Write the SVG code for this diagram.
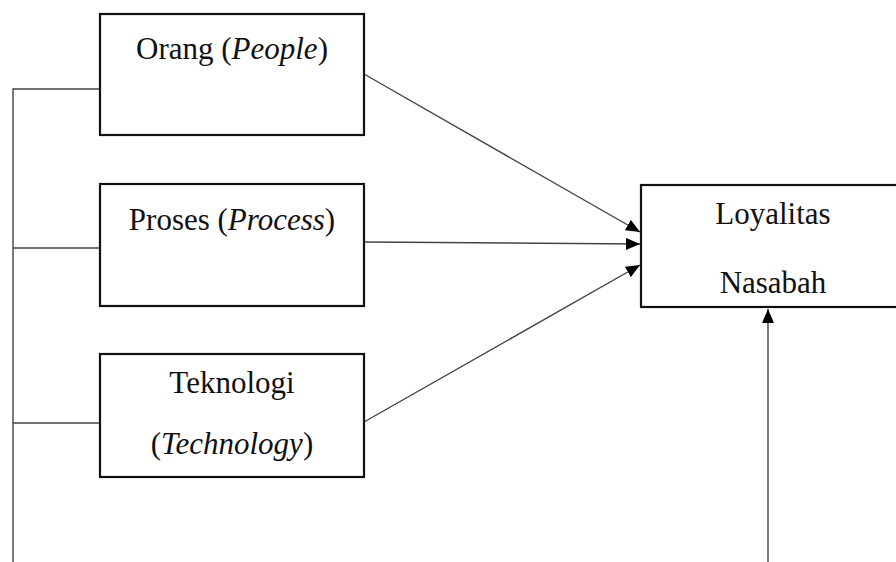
<svg xmlns="http://www.w3.org/2000/svg" width="896" height="562" viewBox="0 0 896 562">
<style>
.box{fill:#fff;stroke:#111;stroke-width:2.2}
.t{font-family:"Liberation Serif","Times New Roman",serif;font-size:31px;fill:#111;text-anchor:middle}
.i{font-style:italic}
.c{fill:none;stroke:#444;stroke-width:1.4}
</style>
<defs>
<marker id="ah" markerWidth="14" markerHeight="12" refX="14" refY="6" orient="auto" markerUnits="userSpaceOnUse">
<path d="M0,0 L14,6 L0,12 Z" fill="#000"/>
</marker>
</defs>
<rect width="896" height="562" fill="#fff"/>
<g id="connectors">
<polyline class="c" points="100,89 13,89 13,562"/>
<line class="c" x1="13" y1="248" x2="100" y2="248"/>
<line class="c" x1="13" y1="423" x2="100" y2="423"/>
<line class="c" x1="364" y1="74" x2="640" y2="232" marker-end="url(#ah)"/>
<line class="c" x1="364" y1="242" x2="640" y2="244" marker-end="url(#ah)"/>
<line class="c" x1="364" y1="422" x2="640" y2="265" marker-end="url(#ah)"/>
<line class="c" x1="768" y1="562" x2="768" y2="309" marker-end="url(#ah)"/>
</g>
<g id="people">
<rect class="box" x="100" y="14" width="264" height="121"/>
<text class="t" x="232" y="59">Orang (<tspan class="i">People</tspan>)</text>
</g>
<g id="process">
<rect class="box" x="100" y="184" width="264" height="122"/>
<text class="t" x="232" y="230">Proses (<tspan class="i">Process</tspan>)</text>
</g>
<g id="technology">
<rect class="box" x="100" y="354" width="264" height="123"/>
<text class="t" x="232" y="393">Teknologi</text>
<text class="t" x="232" y="454">(<tspan class="i">Technology</tspan>)</text>
</g>
<g id="loyalitas">
<rect class="box" x="641" y="185" width="262" height="122"/>
<text class="t" x="773" y="224">Loyalitas</text>
<text class="t" x="773" y="293">Nasabah</text>
</g>
</svg>
